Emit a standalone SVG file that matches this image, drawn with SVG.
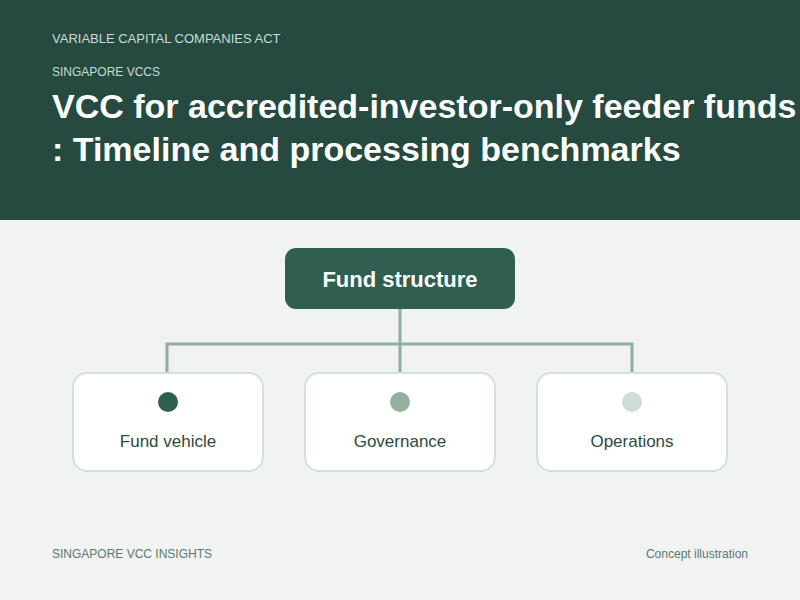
<svg xmlns="http://www.w3.org/2000/svg" width="800" height="600" viewBox="0 0 800 600">
<style>
.hdr{font-family:"Liberation Sans",Arial,sans-serif;fill:#c9ddd3}
.title{font-family:"Liberation Sans",Arial,sans-serif;font-weight:bold;font-size:34px;fill:#ffffff}
.child rect{fill:#ffffff;stroke:#d3e1da;stroke-width:2}
.child text{font-family:"Liberation Sans",Arial,sans-serif;font-size:17px;fill:#2d4a42;text-anchor:middle}
.foot{font-family:"Liberation Sans",Arial,sans-serif;font-size:12px;fill:#5b7a6f}
.conn{fill:none;stroke:#8fae9f;stroke-width:3}
</style>
<rect x="0" y="0" width="800" height="600" fill="#f1f3f2"/>
<rect x="0" y="0" width="800" height="220" fill="#264a40"/>
<text class="hdr" x="52" y="43" font-size="13">VARIABLE CAPITAL COMPANIES ACT</text>
<text class="hdr" x="52" y="76" font-size="12">SINGAPORE VCCS</text>
<text class="title" x="52" y="118">VCC for accredited-investor-only feeder funds</text>
<text class="title" x="52" y="161">: Timeline and processing benchmarks</text>
<g id="connectors">
<path class="conn" d="M400 309 V344 M167 372 V344 H632 V372 M400 344 V372"/>
</g>
<g id="root">
<rect x="285" y="248" width="230" height="61" rx="11" fill="#2f5f50"/>
<text x="400" y="287" font-family="Liberation Sans, Arial, sans-serif" font-weight="bold" font-size="22" fill="#ffffff" text-anchor="middle">Fund structure</text>
</g>
<g id="fund-vehicle" class="child">
<rect x="73" y="373" width="190" height="98" rx="14"/>
<circle cx="168" cy="402" r="10" fill="#2f5f50"/>
<text x="168" y="447">Fund vehicle</text>
</g>
<g id="governance" class="child">
<rect x="305" y="373" width="190" height="98" rx="14"/>
<circle cx="400" cy="402" r="10" fill="#93b0a0"/>
<text x="400" y="447">Governance</text>
</g>
<g id="operations" class="child">
<rect x="537" y="373" width="190" height="98" rx="14"/>
<circle cx="632" cy="402" r="10" fill="#cddcd4"/>
<text x="632" y="447">Operations</text>
</g>
<text class="foot" x="52" y="558">SINGAPORE VCC INSIGHTS</text>
<text class="foot" x="748" y="558" text-anchor="end">Concept illustration</text>
</svg>
